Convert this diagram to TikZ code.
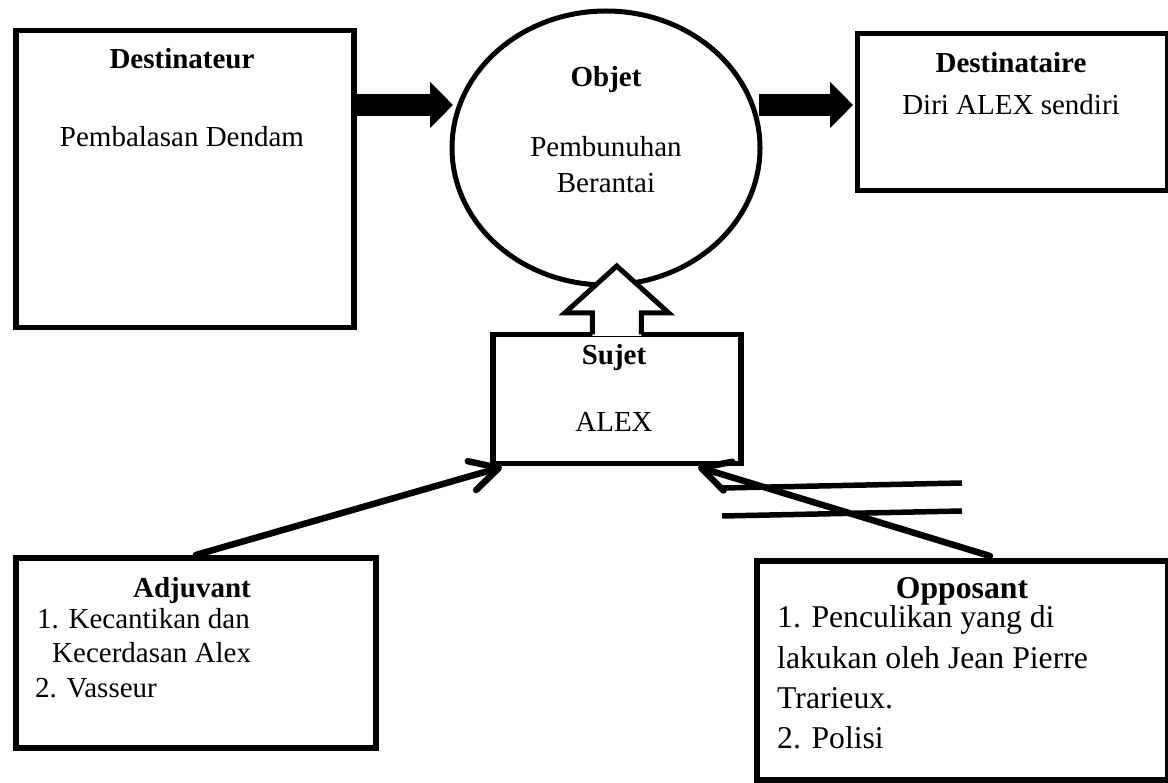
\documentclass[tikz,border=0pt]{standalone}
\usepackage{fontspec}
\setmainfont{Liberation Serif}
\usetikzlibrary{arrows.meta,shapes.geometric}
\begin{document}
\begin{tikzpicture}[x=1pt,y=-1pt,
  boxframe/.style={draw,line width=5.5pt,rectangle,inner sep=0pt,anchor=north west},
  txt/.style={inner sep=0pt,anchor=base,font=\fontsize{29}{34.5}\selectfont},
  txtl/.style={inner sep=0pt,anchor=base west,font=\fontsize{29}{34.5}\selectfont},
  otxt/.style={inner sep=0pt,anchor=base,font=\fontsize{31.7}{40}\selectfont},
  otxtl/.style={inner sep=0pt,anchor=base west,font=\fontsize{31.7}{40}\selectfont},
  blockarrow/.style={line width=22pt,-{Triangle[length=23pt,width=45pt]}},
  thinarrow/.style={line width=6.5pt,line cap=round,-{Straight Barb[length=28pt,width=30pt,line cap=round,line join=round]}},
  thinline/.style={line width=5.5pt}
]
\useasboundingbox (0,0) rectangle (1168,783);
\fill[white] (0,0) rectangle (1168,783);

% boxes
\node[boxframe,minimum width=338pt,minimum height=297pt] (dest) at (13,28) {};
\node[draw,ellipse,line width=5pt,inner sep=0pt,minimum width=308pt,minimum height=274pt] (obj) at (606,148) {};
\node[boxframe,minimum width=310.5pt,minimum height=157pt] (desti) at (854.5,31) {};
\node[boxframe,minimum width=248pt,minimum height=129pt] (suj) at (490,332) {};
\node[boxframe,minimum width=360pt,minimum height=190pt] (adj) at (13,555) {};
\node[boxframe,minimum width=411pt,minimum height=219pt] (opp) at (754,558) {};

% texts
\node[txt] (t1) at (182,69) {\textbf{Destinateur}};
\node[txt] (t2) at (182,147) {Pembalasan Dendam};
\node[txt] (t3) at (606,87) {\textbf{Objet}};
\node[txt] (t4) at (606,157) {Pembunuhan};
\node[txt] (t5) at (606,193) {Berantai};
\node[txt] (t6) at (1011,73) {\textbf{Destinataire}};
\node[txt] (t7) at (1011,115) {Diri ALEX sendiri};
\node[txt] (t8) at (614,365) {\textbf{Sujet}};
\node[txt] (t9) at (614,432) {ALEX};
\node[txt] (t10) at (192,597) {\textbf{Adjuvant}};
\node[txtl] (t11) at (37,628) {1. Kecantikan dan};
\node[txtl] (t12) at (52,662) {Kecerdasan Alex};
\node[txtl] (t13) at (35,697) {2. Vasseur};
\node[otxt] (t14) at (962,598) {\textbf{Opposant}};
\node[otxtl] (t15) at (777,627) {1. Penculikan yang di};
\node[otxtl] (t16) at (777,668) {lakukan oleh Jean Pierre};
\node[otxtl] (t17) at (777,708) {Trarieux.};
\node[otxtl] (t18) at (777,748) {2. Polisi};

% block arrows
\coordinate (la) at (453,105);
\coordinate (ra) at (853,105);
\draw[blockarrow] (dest.east |- la) -- (la);
\coordinate (rs) at (759,105);
\draw[blockarrow] (rs) -- (ra);

% hollow arrow from Sujet to Objet
\fill[white] ([shift={(-24.5,4)}]suj.north) -- ([shift={(-24.5,-19)}]suj.north) -- ([shift={(-52,-19)}]suj.north)
  -- ([shift={(0,-66)}]suj.north) -- ([shift={(52,-19)}]suj.north) -- ([shift={(24.5,-19)}]suj.north)
  -- ([shift={(24.5,4)}]suj.north) -- cycle;
\draw[line width=5pt,line join=miter] ([shift={(-24.5,2.5)}]suj.north) -- ([shift={(-24.5,-19)}]suj.north) -- ([shift={(-52,-19)}]suj.north)
  -- ([shift={(0,-66)}]suj.north) -- ([shift={(52,-19)}]suj.north) -- ([shift={(24.5,-19)}]suj.north)
  -- ([shift={(24.5,2.5)}]suj.north);

% thin arrows
\coordinate (adjtip) at (502,467);
\coordinate (oppstart) at (990,556);
\coordinate (opptip) at (698,467);
\draw[thinarrow] (adj.north) -- (adjtip);
\draw[thinarrow] (oppstart) -- (opptip);

% crossing lines
\coordinate (l1a) at (723,488);
\coordinate (l1b) at (962,483);
\coordinate (l2a) at (722,516);
\coordinate (l2b) at (962,511);
\draw[thinline] (l1a) -- (l1b);
\draw[thinline] (l2a) -- (l2b);
\end{tikzpicture}
\end{document}
